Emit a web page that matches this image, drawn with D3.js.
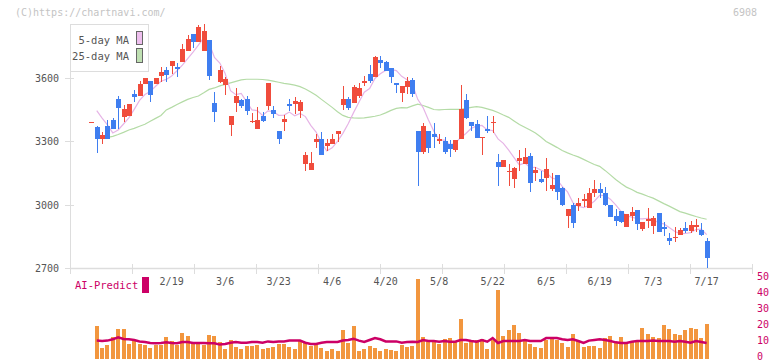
<!DOCTYPE html>
<html><head><meta charset="utf-8">
<script src="https://cdn.jsdelivr.net/npm/d3@7"></script>
<style>body{margin:0;background:#fff}svg{display:block}text{font-family:"DejaVu Sans Mono",monospace}</style>
</head><body><svg id="c" width="772" height="361"></svg>
<script>
const opens=[3391,3367,3310,3373,3402,3501,3417,3421,3525,3515,3572,3586,3572,3611,3638,3659,3651,3678,3730,3809,3768,3727,3779,3484,3583,3569,3378,3481,3496,3501,3390,3358,3421,3469,3449,3351,3394,3477,3476,3446,3194,3166,3296,3310,3279,3287,3335,3473,3501,3484,3515,3578,3619,3607,3686,3675,3646,3575,3531,3556,3591,3350,3252,3350,3334,3304,3302,3288,3260,3312,3496,3394,3383,3318,3360,3390,3203,3177,3154,3121,3209,3192,3232,3151,3123,3126,3073,3141,3078,2947,3000,2996,3020,2987,3055,3075,3058,3000,2947,2971,2897,2947,2976,2886,2925,2900,2963,2894,2845,2844,2858,2892,2878,2897,2881,2829];
const highs=[3391,3373,3344,3402,3410,3515,3473,3476,3544,3586,3599,3586,3602,3654,3654,3681,3673,3760,3804,3809,3850,3856,3779,3536,3657,3607,3418,3553,3500,3515,3436,3465,3441,3578,3468,3351,3426,3501,3512,3496,3252,3252,3334,3344,3310,3334,3351,3564,3512,3567,3578,3611,3662,3702,3702,3681,3646,3578,3563,3604,3599,3350,3389,3350,3389,3334,3323,3307,3307,3567,3525,3394,3402,3321,3422,3421,3241,3213,3192,3178,3260,3268,3245,3178,3162,3220,3149,3141,3083,2981,3011,3031,3051,3082,3118,3105,3086,3000,2981,2971,2957,2988,2976,2918,2984,2947,2963,2921,2866,2894,2889,2918,2925,2933,2913,2845];
const lows=[3391,3247,3287,3310,3359,3361,3394,3421,3487,3515,3572,3488,3572,3580,3583,3619,3607,3678,3730,3744,3768,3727,3591,3394,3577,3520,3327,3438,3460,3425,3387,3358,3394,3449,3413,3287,3347,3446,3430,3413,3162,3166,3271,3236,3255,3287,3299,3449,3449,3484,3507,3564,3578,3607,3646,3635,3578,3528,3488,3523,3509,3089,3241,3247,3271,3287,3241,3228,3252,3312,3405,3350,3318,3236,3339,3339,3087,3177,3090,3082,3162,3192,3062,3115,3105,3067,3067,3023,2995,2892,2892,2973,2992,2987,3039,3031,2997,2944,2902,2913,2897,2925,2881,2876,2892,2862,2873,2854,2810,2826,2858,2866,2866,2873,2853,2700];
const closes=[3391,3310,3331,3310,3359,3460,3452,3476,3512,3571,3599,3520,3602,3630,3615,3681,3643,3737,3785,3768,3843,3823,3609,3441,3638,3594,3418,3515,3468,3446,3398,3402,3398,3578,3430,3310,3407,3469,3492,3486,3234,3200,3310,3236,3294,3310,3351,3501,3460,3559,3555,3588,3588,3699,3670,3635,3604,3567,3563,3588,3525,3252,3373,3271,3323,3312,3252,3264,3307,3454,3410,3375,3318,3321,3350,3394,3177,3213,3159,3173,3223,3225,3102,3166,3110,3170,3094,3062,3000,2981,2916,3008,3028,3058,3075,3058,3000,2944,2925,2918,2957,2965,2910,2918,2933,2939,2873,2886,2831,2847,2881,2878,2905,2905,2858,2750];
const volumes=[0,20.6,7.1,8.75,13.75,18.75,18.75,9.6,11.25,9.6,8.75,7.1,8.75,8.75,13.75,11.25,8.75,16.5,14.4,9.6,9.6,8.75,15,14.4,10.8,6.25,11.9,7.5,6.25,8.3,8.3,8.75,6.25,7.1,7.5,9.6,9.6,7.5,6.25,11.25,10.4,8.3,9.6,7.1,5,6.25,5,18.1,10.2,20.6,5,6.25,7.9,7.1,5,6.25,5.4,5,8.75,7.5,7.9,49.8,13.75,10.6,10.6,9.6,12.5,13.1,10.6,25.2,10,10.6,11.9,12.5,6.25,11.9,43.1,14.4,18.1,21.25,16.5,11.9,9.4,7.5,6.9,11.9,13.1,11.9,10,7.5,15.6,11.25,7.5,8.1,8.1,6.9,13.1,14.4,10,13.75,10,10.6,10.6,19.4,15.6,13.75,13.1,21.25,18.75,15.6,15,18.1,19.4,18.75,13.1,21.9];
const aiPredict=[null,11.5,11.3,11.5,12.3,13.5,12.5,12.3,11.9,11.0,10.6,10.0,9.8,10.0,10.4,10.0,9.8,10.6,10.6,10.0,10.0,10.0,9.8,9.8,9.0,9.4,10.2,10.6,10.2,10.2,10.6,10.6,10.2,11.0,10.6,11.0,11.0,11.5,11.5,11.5,10.2,9.4,9.4,10.2,10.6,10.6,10.6,11.5,11.9,12.7,11.5,10.6,11.9,13.1,12.3,11.0,11.0,11.0,10.2,10.6,10.8,10.6,11.9,11.25,11.25,10.8,11.25,10.8,10.8,11.9,11.9,11.25,10.8,11.9,10.8,13.1,10.0,11.25,11.25,11.25,11.25,11.9,11.25,11.25,11.25,13.1,13.1,13.1,12.3,11.9,12.3,11.25,10.0,11.5,11.9,12.3,11.9,11.25,10.4,10.0,10.0,10.8,11.25,11.25,11.25,11.5,11.25,11.25,11.25,10.8,11.25,10.8,10.2,11.25,10.6,10.0];
const ma5Head=[null,3446,3410,3378];
const ma25=[null,null,null,3319,3324,3333,3343,3354,3362,3372,3381,3395,3409,3423,3449,3461,3475,3487,3499,3508,3515,3530,3546,3553,3563,3570,3577,3584,3591,3594,3594,3594,3593,3590,3585,3580,3575,3571,3566,3559,3548,3534,3518,3499,3480,3461,3440,3423,3414,3411,3410,3411,3415,3419,3425,3435,3447,3456,3460,3459,3468,3476,3470,3461,3451,3449,3451,3452,3452,3452,3456,3461,3465,3461,3454,3447,3437,3425,3414,3397,3380,3367,3354,3340,3321,3300,3286,3272,3257,3246,3236,3227,3215,3203,3191,3182,3163,3142,3120,3101,3084,3073,3059,3051,3041,3032,3019,3006,2994,2981,2968,2961,2953,2945,2938,2932];
const xLabels=["2/19","3/6","3/23","4/6","4/20","5/8","5/22","6/5","6/19","7/3","7/17"];
const xLabelIndex=[15,25,35,45,55,65,75,85,95,105,115];
const yTicks=[2700,3000,3300,3600];
const volTicks=[0,10,20,30,40,50];

const svg=d3.select("#c");
const n=closes.length;
const x=d3.scaleLinear().domain([0,n-1]).range([91.4,706.65]);
const y=d3.scaleLinear().domain([2700,3600]).range([268.3,78]);
const yv=d3.scaleLinear().domain([0,50]).range([359,279]);
const RED="#f04c3c",BLUE="#3f7ef0",GRID="#dddddd",LAB="#555";

svg.append("text").attr("x",15).attr("y",16).attr("font-size",10).attr("fill","#c4c4c4").text("(C)https://chartnavi.com/");
svg.append("text").attr("x",757).attr("y",16).attr("text-anchor","end").attr("font-size",10).attr("fill","#c4c4c4").text("6908");

svg.append("line").attr("x1",70.5).attr("x2",70.5).attr("y1",24).attr("y2",y(2700)).attr("stroke",GRID);
svg.append("line").attr("x1",70).attr("x2",752).attr("y1",Math.round(y(2700))+0.5).attr("y2",Math.round(y(2700))+0.5).attr("stroke",GRID).attr("stroke-width",1.5);
yTicks.forEach(v=>{
  const yy=Math.round(y(v))+0.5;
  svg.append("line").attr("x1",65).attr("x2",74).attr("y1",yy).attr("y2",yy).attr("stroke",GRID);
  svg.append("text").attr("x",59).attr("y",yy).attr("dy","0.35em").attr("text-anchor","end").attr("font-size",10).attr("fill",LAB).text(v);
});
d3.range(70,753,62).forEach(t=>{
  svg.append("line").attr("x1",t+0.5).attr("x2",t+0.5).attr("y1",264).attr("y2",274).attr("stroke",GRID);
});
xLabels.forEach((l,k)=>{
  svg.append("text").attr("x",x(xLabelIndex[k])).attr("y",285).attr("text-anchor","middle").attr("font-size",10).attr("fill",LAB).text(l);
});

const ma5=closes.map((c,i)=> i<4 ? ma5Head[i] : d3.mean(closes.slice(i-4,i+1)));
const lineGen=d3.line().defined(d=>d!=null).x((d,i)=>x(i)).y(d=>y(d));
svg.append("path").datum(ma25).attr("d",lineGen).attr("fill","none").attr("stroke","#b4dba6").attr("stroke-width",1.2);
svg.append("path").datum(ma5).attr("d",lineGen).attr("fill","none").attr("stroke","#e6b4e6").attr("stroke-width",1.2);

const g=svg.append("g").attr("shape-rendering","crispEdges");
closes.forEach((c,i)=>{
  const o=opens[i],up=c>=o,col=up?RED:BLUE,cx=Math.round(x(i));
  g.append("rect").attr("x",cx).attr("width",1).attr("y",y(highs[i])).attr("height",Math.max(1,y(lows[i])-y(highs[i]))).attr("fill",col);
  const top=y(Math.max(o,c)),bot=y(Math.min(o,c));
  g.append("rect").attr("x",cx-2).attr("width",5).attr("y",top).attr("height",Math.max(1,bot-top)).attr("fill",col);
});

svg.append("rect").attr("x",70.5).attr("y",24.5).attr("width",78).attr("height",47).attr("fill","#fff").attr("stroke",GRID);
svg.append("text").attr("x",129).attr("y",44).attr("text-anchor","end").attr("font-size",10.5).attr("fill",LAB).text("5-day MA");
svg.append("text").attr("x",129).attr("y",60).attr("text-anchor","end").attr("font-size",10.5).attr("fill",LAB).text("25-day MA");
svg.append("rect").attr("x",136.5).attr("y",31.5).attr("width",6).attr("height",13).attr("fill","#eebfee").attr("stroke","#666");
svg.append("rect").attr("x",136.5).attr("y",48.5).attr("width",6).attr("height",14).attr("fill","#bfe0b2").attr("stroke","#666");

const vb=svg.append("g").attr("shape-rendering","crispEdges");
volumes.forEach((v,i)=>{ if(v>0) vb.append("rect").attr("x",Math.round(x(i))-2).attr("width",4).attr("y",yv(v)).attr("height",yv(0)-yv(v)).attr("fill","#f2963e"); });
svg.append("path").datum(aiPredict).attr("d",d3.line().defined(d=>d!=null).x((d,i)=>x(i)).y(d=>yv(d))).attr("fill","none").attr("stroke","#cc0066").attr("stroke-width",2.5);
volTicks.forEach(v=>{
  svg.append("text").attr("x",757).attr("y",yv(v)+1).attr("font-size",10).attr("fill","#cc0066").text(v);
});
svg.append("text").attr("x",75).attr("y",289).attr("font-size",10.5).attr("fill","#cc0066").text("AI-Predict");
svg.append("rect").attr("x",142).attr("y",277).attr("width",7).attr("height",16).attr("fill","#cc0066");
</script></body></html>
